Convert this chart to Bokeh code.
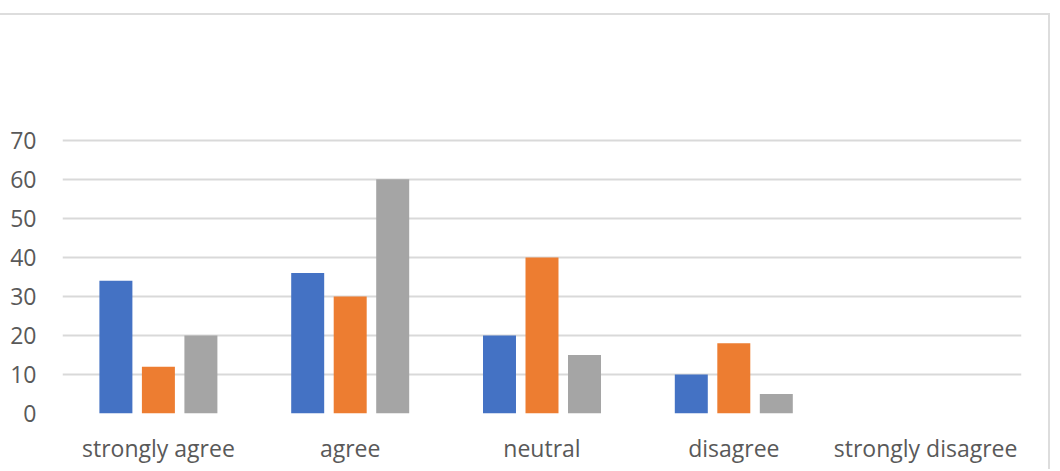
from bokeh.plotting import figure
from bokeh.models import FactorRange, Range1d, FixedTicker, ColumnDataSource
from bokeh.transform import dodge
from bokeh.embed import file_html
from bokeh.resources import INLINE

categories = ["strongly agree", "agree", "neutral", "disagree", "strongly disagree"]
series1 = [34, 36, 20, 10, 0]
series2 = [12, 30, 40, 18, 0]
series3 = [20, 60, 15, 5, 0]
y_ticks = [0, 10, 20, 30, 40, 50, 60, 70]

src = ColumnDataSource(dict(cat=categories, s1=series1, s2=series2, s3=series3))

p = figure(width=1050, height=456, x_range=FactorRange(*categories), y_range=Range1d(0, 72),
           output_backend="svg", toolbar_location=None,
           min_border_left=62, min_border_right=29, min_border_top=117, min_border_bottom=58)
p.outline_line_color = None
p.styles = {"margin-top": "13px", "border-top": "2px solid #DDDDDD",
            "border-right": "2px solid #DDDDDD"}

bw = 0.172
off = 0.2216
p.vbar(x=dodge("cat", -off, range=p.x_range), top="s1", width=bw, source=src,
       fill_color="#4472C4", line_color=None)
p.vbar(x=dodge("cat", 0, range=p.x_range), top="s2", width=bw, source=src,
       fill_color="#ED7D31", line_color=None)
p.vbar(x=dodge("cat", off, range=p.x_range), top="s3", width=bw, source=src,
       fill_color="#A5A5A5", line_color=None)

p.xgrid.grid_line_color = None
p.ygrid.grid_line_color = "#D9D9D9"
p.ygrid.grid_line_width = 2
p.ygrid.ticker = FixedTicker(ticks=y_ticks)
p.yaxis.ticker = FixedTicker(ticks=y_ticks)

for ax in (p.xaxis, p.yaxis):
    ax.axis_line_color = None
    ax.major_tick_line_color = None
    ax.minor_tick_line_color = None
    ax.major_label_text_font = "Open Sans"
    ax.major_label_text_font_size = "23px"
    ax.major_label_text_color = "#595959"
p.yaxis.major_label_standoff = 20
p.xaxis.major_label_standoff = 12

open("out.html", "w").write(file_html(p, INLINE))
